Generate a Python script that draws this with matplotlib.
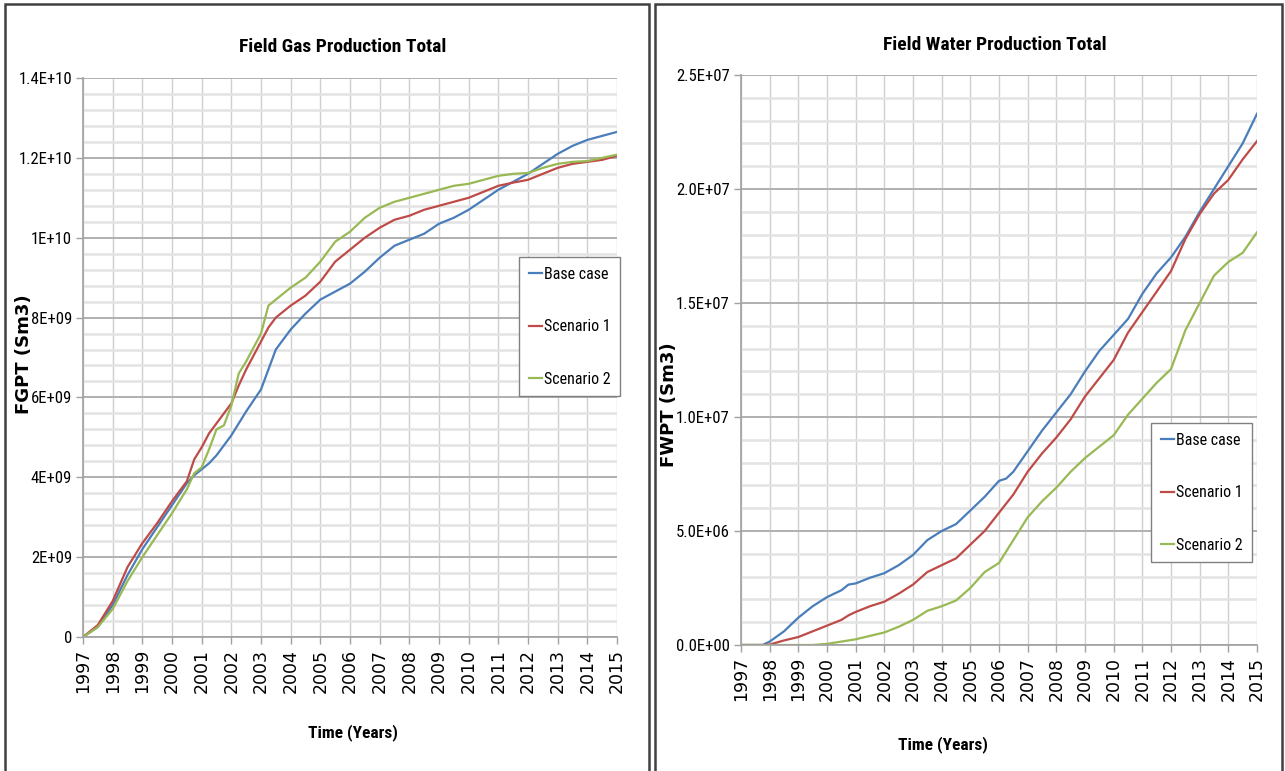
import os
import matplotlib
matplotlib.use("Agg")
import matplotlib.pyplot as plt
from matplotlib import font_manager
from matplotlib.font_manager import FontProperties
from matplotlib.patches import Rectangle

################# DATA ####################

years = list(range(1997, 2016))

# Field gas production total (E9 Sm3), read at half-year steps
gas_t = [1997.0, 1997.5, 1998.0, 1998.5, 1999.0, 1999.5, 2000.0, 2000.5, 2000.75,
         2001.0, 2001.25, 2001.5, 2001.75, 2002.0, 2002.25, 2002.5, 2003.0, 2003.25,
         2003.5, 2004.0, 2004.5, 2005.0, 2005.5, 2006.0, 2006.5, 2007.0, 2007.5,
         2008.0, 2008.5, 2009.0, 2009.5, 2010.0, 2010.5, 2011.0, 2011.5, 2012.0,
         2012.5, 2013.0, 2013.5, 2014.0, 2014.5, 2015.0]
gas_base = [0.0, 0.25, 0.8, 1.55, 2.2, 2.75, 3.3, 3.85, 4.05,
            4.2, 4.35, 4.55, 4.8, 5.05, 5.35, 5.65, 6.2, 6.7,
            7.2, 7.7, 8.1, 8.45, 8.65, 8.85, 9.15, 9.5, 9.8,
            9.95, 10.1, 10.35, 10.5, 10.7, 10.95, 11.2, 11.4, 11.6,
            11.85, 12.1, 12.3, 12.45, 12.55, 12.65]
gas_sc1 = [0.0, 0.3, 0.9, 1.75, 2.35, 2.85, 3.4, 3.9, 4.45,
           4.75, 5.1, 5.35, 5.6, 5.85, 6.3, 6.7, 7.4, 7.75,
           8.0, 8.3, 8.55, 8.9, 9.4, 9.7, 10.0, 10.25, 10.45,
           10.55, 10.7, 10.8, 10.9, 11.0, 11.15, 11.3, 11.38, 11.45,
           11.6, 11.75, 11.85, 11.9, 11.95, 12.05]
gas_sc2 = [0.0, 0.25, 0.7, 1.4, 2.0, 2.55, 3.1, 3.7, 4.1,
           4.25, 4.7, 5.2, 5.3, 5.8, 6.6, 6.9, 7.6, 8.3,
           8.45, 8.75, 9.0, 9.4, 9.9, 10.15, 10.5, 10.75, 10.9,
           11.0, 11.1, 11.2, 11.3, 11.35, 11.45, 11.55, 11.6, 11.62,
           11.75, 11.85, 11.9, 11.92, 12.0, 12.08]

# Field water production total (E6 Sm3)
wat_t = [1997.0, 1997.5, 1997.75, 1998.0, 1998.5, 1999.0, 1999.5, 2000.0, 2000.5,
         2000.75, 2001.0, 2001.5, 2002.0, 2002.5, 2003.0, 2003.5, 2004.0, 2004.5,
         2005.0, 2005.5, 2006.0, 2006.25, 2006.5, 2007.0, 2007.5, 2008.0, 2008.5,
         2009.0, 2009.5, 2010.0, 2010.5, 2011.0, 2011.5, 2012.0, 2012.5, 2013.0,
         2013.5, 2014.0, 2014.5, 2015.0]
wat_base = [0.0, 0.0, 0.0, 0.15, 0.6, 1.2, 1.7, 2.1, 2.4,
            2.65, 2.7, 2.95, 3.15, 3.5, 3.95, 4.6, 5.0, 5.3,
            5.9, 6.5, 7.2, 7.3, 7.6, 8.5, 9.4, 10.2, 11.0,
            12.0, 12.9, 13.6, 14.3, 15.4, 16.3, 17.0, 17.9, 19.0,
            20.0, 21.0, 22.0, 23.3]
wat_sc1 = [0.0, 0.0, 0.0, 0.02, 0.2, 0.35, 0.6, 0.85, 1.1,
           1.3, 1.45, 1.7, 1.9, 2.25, 2.65, 3.2, 3.5, 3.8,
           4.4, 5.0, 5.8, 6.2, 6.6, 7.6, 8.4, 9.1, 9.9,
           10.9, 11.7, 12.5, 13.7, 14.6, 15.5, 16.4, 17.8, 18.9,
           19.8, 20.4, 21.3, 22.1]
wat_sc2 = [0.0, 0.0, 0.0, 0.0, 0.0, 0.0, 0.0, 0.05, 0.15,
           0.2, 0.25, 0.4, 0.55, 0.8, 1.1, 1.5, 1.7, 1.95,
           2.5, 3.2, 3.6, 4.1, 4.6, 5.6, 6.3, 6.9, 7.6,
           8.2, 8.7, 9.2, 10.1, 10.8, 11.5, 12.1, 13.8, 15.0,
           16.2, 16.8, 17.2, 18.1]

labels = ["Base case", "Scenario 1", "Scenario 2"]
colors = ["#4a7ebb", "#be4b48", "#98b954"]

gas_ticks = [0, 2e9, 4e9, 6e9, 8e9, 1e10, 1.2e10, 1.4e10]
gas_ticklabels = ["0", "2E+09", "4E+09", "6E+09", "8E+09", "1E+10", "1.2E+10", "1.4E+10"]
wat_ticks = [0, 5e6, 1e7, 1.5e7, 2e7, 2.5e7]
wat_ticklabels = ["0.0E+00", "5.0E+06", "1.0E+07", "1.5E+07", "2.0E+07", "2.5E+07"]

#################################################

W, H = 1285, 771

# look for a narrow sans (Calibri-like look); fall back to Liberation Sans
files = {os.path.basename(f.fname).lower(): f.fname for f in font_manager.fontManager.ttflist}


def pick(cands):
    for c in cands:
        for base, path in files.items():
            if base.startswith(c):
                return path
    return None


reg_path = pick(["liberationsansnarrow-regular", "robotocondensed-regular",
                 "roboto_condensed-regular", "notosans-condensed.", "opensans_condensed-regular",
                 "opensans-condensedregular"])
bold_path = pick(["liberationsansnarrow-bold.", "robotocondensed-bold.",
                  "roboto_condensed-bold.", "notosans-condensedbold.", "opensans_condensed-bold.",
                  "opensans-condensedbold."])
narrow = reg_path is not None and bold_path is not None


def fp(size, bold=False):
    if narrow:
        return FontProperties(fname=bold_path if bold else reg_path, size=size)
    return FontProperties(family="Liberation Sans", weight="bold" if bold else "normal",
                          size=size * 0.85)


fig = plt.figure(figsize=(W / 100, H / 100), dpi=100)

# panel frames
for x0, x1 in [(5, 649), (655, 1282)]:
    fig.patches.append(Rectangle((x0 / W, -0.01), (x1 - x0) / W, 1.0 - 4 / H + 0.01,
                                 transform=fig.transFigure, fill=False,
                                 edgecolor="#404040", linewidth=1.8))


def panel(px, t, series, ticks, ticklabels, minor_step, scale, title, ylabel,
          title_pos, xlab_pos, ylab_pos, leg_anchor):
    x0, x1, ytop, ybot = px
    ax = fig.add_axes([x0 / W, 1 - ybot / H, (x1 - x0) / W, (ybot - ytop) / H])
    for s, lab, c in zip(series, labels, colors):
        ax.plot(t, [v * scale for v in s], color=c, lw=1.6, label=lab)
    ax.set_xlim(1997, 2015)
    ax.set_ylim(ticks[0], ticks[-1])
    ax.set_xticks(years)
    ax.set_xticklabels([str(y) for y in years], rotation=90, fontsize=12.5,
                       family="DejaVu Sans")
    ax.set_yticks(ticks)
    ax.set_yticklabels(ticklabels)
    for lbl in ax.get_yticklabels():
        lbl.set_fontproperties(fp(12))
    minors = []
    v = ticks[0]
    while v < ticks[-1] - 1:
        v += minor_step
        minors.append(v)
    ax.set_yticks(minors, minor=True)
    ax.grid(True, axis="y", which="minor", color="#e3e3e3", lw=1.8, zorder=0)
    ax.grid(True, axis="y", which="major", color="#b0b0b0", lw=1.4, zorder=0)
    ax.grid(True, axis="x", which="major", color="#cfcfcf", lw=1.0, zorder=0)
    ax.set_axisbelow(True)
    for side in ["top", "right"]:
        ax.spines[side].set_visible(False)
    for side in ["left", "bottom"]:
        ax.spines[side].set_color("#a0a0a0")
        ax.spines[side].set_linewidth(1.2)
    ax.tick_params(axis="both", which="major", color="#a0a0a0", length=5, width=1.0)
    ax.tick_params(axis="y", which="major", pad=3)
    ax.tick_params(axis="y", which="minor", length=0)
    ax.text(title_pos[0], title_pos[1], title, transform=ax.transAxes, ha="center",
            va="center", fontproperties=fp(14, True))
    ax.set_xlabel("Time (Years)", fontproperties=fp(12.5, True), va="center")
    ax.xaxis.set_label_coords(*xlab_pos)
    ax.set_ylabel(ylabel, fontsize=13, fontweight="bold", family="DejaVu Sans", va="center")
    ax.yaxis.set_label_coords(*ylab_pos)
    leg = ax.legend(loc="upper left", bbox_to_anchor=leg_anchor, fancybox=False,
                    edgecolor="#808080", framealpha=1, handlelength=0.85,
                    handletextpad=0.12, labelspacing=2.35, borderpad=0.6,
                    borderaxespad=0, prop=fp(11.5))
    leg.get_frame().set_linewidth(1.0)
    return ax


# left panel: plot area in pixels (x0, x1, ytop, ybottom)
lp = (83, 617, 78, 637)
panel(lp, gas_t, [gas_base, gas_sc1, gas_sc2], gas_ticks, gas_ticklabels, 4e8, 1e9,
      "Field Gas Production Total", "FGPT (Sm3)",
      ((343 - 83) / 534, 1 + (78 - 47) / 559),
      ((353 - 83) / 534, -(733 - 637) / 559),
      ((24 - 83) / 534, 1 - (354 - 78) / 559),
      ((519 - 83) / 534, 1 - (257 - 78) / 559))

rp = (741, 1257, 75, 645)
panel(rp, wat_t, [wat_base, wat_sc1, wat_sc2], wat_ticks, wat_ticklabels, 1e6, 1e6,
      "Field Water Production Total", "FWPT (Sm3)",
      ((995 - 741) / 516, 1 + (75 - 45) / 570),
      ((943 - 741) / 516, -(745 - 645) / 570),
      ((669 - 741) / 516, 1 - (405 - 75) / 570),
      ((1151 - 741) / 516, 1 - (423 - 75) / 570))

fig.savefig("out.png", dpi=100)
